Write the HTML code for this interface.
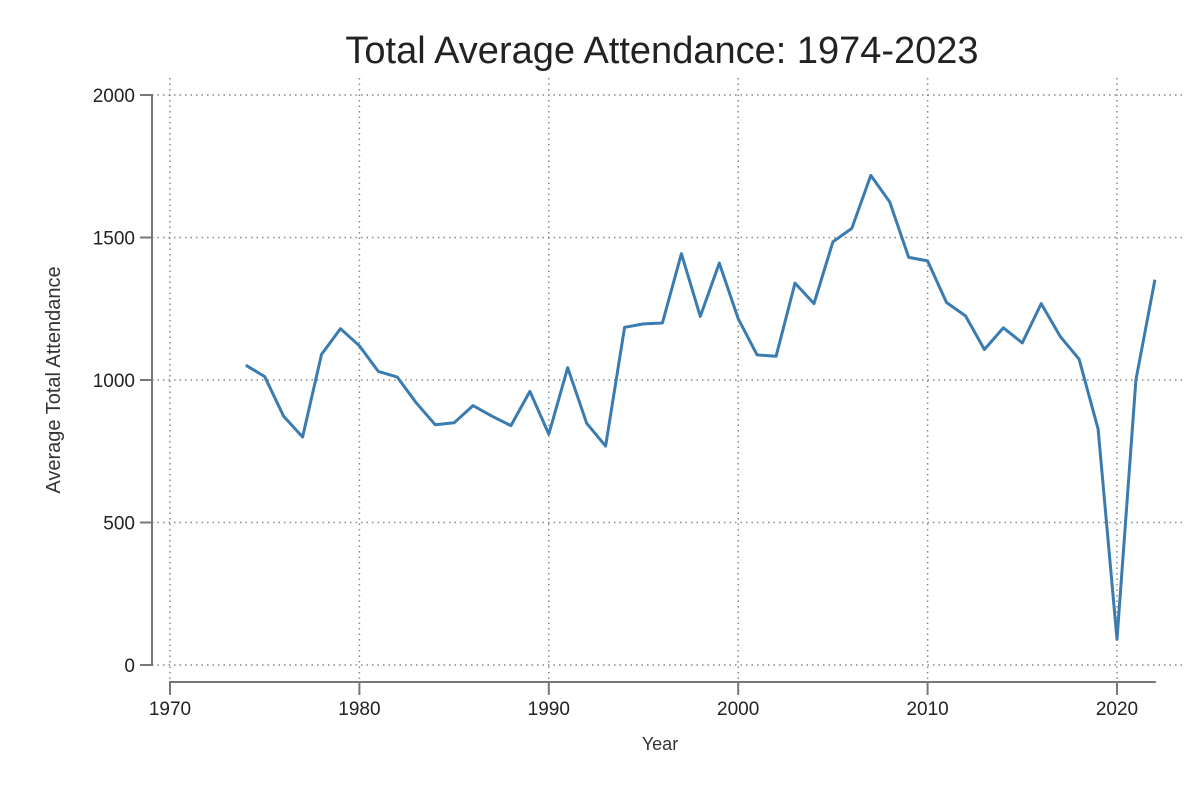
<!DOCTYPE html>
<html><head><meta charset="utf-8"><style>
body{margin:0;background:#fff;}
svg{display:block;font-family:"Liberation Sans",sans-serif;}
</style></head><body>
<svg id="chart" width="1200" height="800">
<text x="662" y="63" font-size="38" text-anchor="middle" fill="#222">Total Average Attendance: 1974-2023</text>
<text x="660" y="750" font-size="18" text-anchor="middle" fill="#333">Year</text>
<text transform="translate(60,380) rotate(-90)" font-size="20" text-anchor="middle" fill="#333">Average Total Attendance</text>
<g id="grid"></g><g id="axes"></g><g id="series"></g>
</svg>
<script>
const years=[1974,1975,1976,1977,1978,1979,1980,1981,1982,1983,1984,1985,1986,1987,1988,1989,1990,1991,1992,1993,1994,1995,1996,1997,1998,1999,2000,2001,2002,2003,2004,2005,2006,2007,2008,2009,2010,2011,2012,2013,2014,2015,2016,2017,2018,2019,2020,2021,2022];
const attendance=[1052,1012,873,800,1090,1180,1120,1030,1010,920,843,850,910,873,840,960,810,1043,848,768,1185,1197,1200,1443,1223,1410,1215,1088,1083,1340,1268,1485,1532,1718,1625,1430,1418,1272,1225,1107,1183,1130,1268,1153,1073,828,90,1000,1352];
const xTicks=[1970,1980,1990,2000,2010,2020];
const yTicks=[0,500,1000,1500,2000];
const NS="http://www.w3.org/2000/svg";
const x=v=>170+(v-1970)*(1117-170)/50;
const y=v=>665-v*(665-95)/2000;
function mk(tag,attrs,parent,text){const e=document.createElementNS(NS,tag);for(const k in attrs)e.setAttribute(k,attrs[k]);if(text!==undefined)e.textContent=text;parent.appendChild(e);return e;}
const grid=document.getElementById('grid'),axes=document.getElementById('axes'),series=document.getElementById('series');
yTicks.forEach(t=>{
 const g=mk('line',{x1:152,x2:1186,y1:y(t),y2:y(t),stroke:'#888','stroke-width':1.5,'stroke-dasharray':'1.5,4'},grid);
 
 
 const tk=mk('line',{x1:140,x2:152,y1:y(t),y2:y(t),stroke:'#777','stroke-width':2},axes);
 
 
 const l=mk('text',{x:135,y:y(t)+7,'font-size':19,'text-anchor':'end',fill:'#222'},axes,t);
 
 
});
xTicks.forEach(t=>{
 const g=mk('line',{x1:x(t),x2:x(t),y1:78,y2:680,stroke:'#888','stroke-width':1.5,'stroke-dasharray':'1.5,4'},grid);
 
 
 const tk=mk('line',{x1:x(t),x2:x(t),y1:682,y2:695,stroke:'#777','stroke-width':2},axes);
 
 
 const l=mk('text',{x:x(t),y:715,'font-size':19,'text-anchor':'middle',fill:'#222'},axes,t);
 
 
});
const ya=mk('line',{x1:152,x2:152,y1:y(2000)-1,y2:y(0)+1,stroke:'#777','stroke-width':2},axes);


const xa=mk('line',{x1:x(1970)-1,x2:x(2022)+1,y1:682,y2:682,stroke:'#777','stroke-width':2},axes);


const pts=years.map((yr,i)=>x(yr).toFixed(1)+','+y(attendance[i]).toFixed(1)).join(' ');
const pl=mk('polyline',{points:pts,fill:'none',stroke:'#3a7bb0','stroke-width':3,'stroke-linejoin':'round'},series);


</script>
</body></html>
